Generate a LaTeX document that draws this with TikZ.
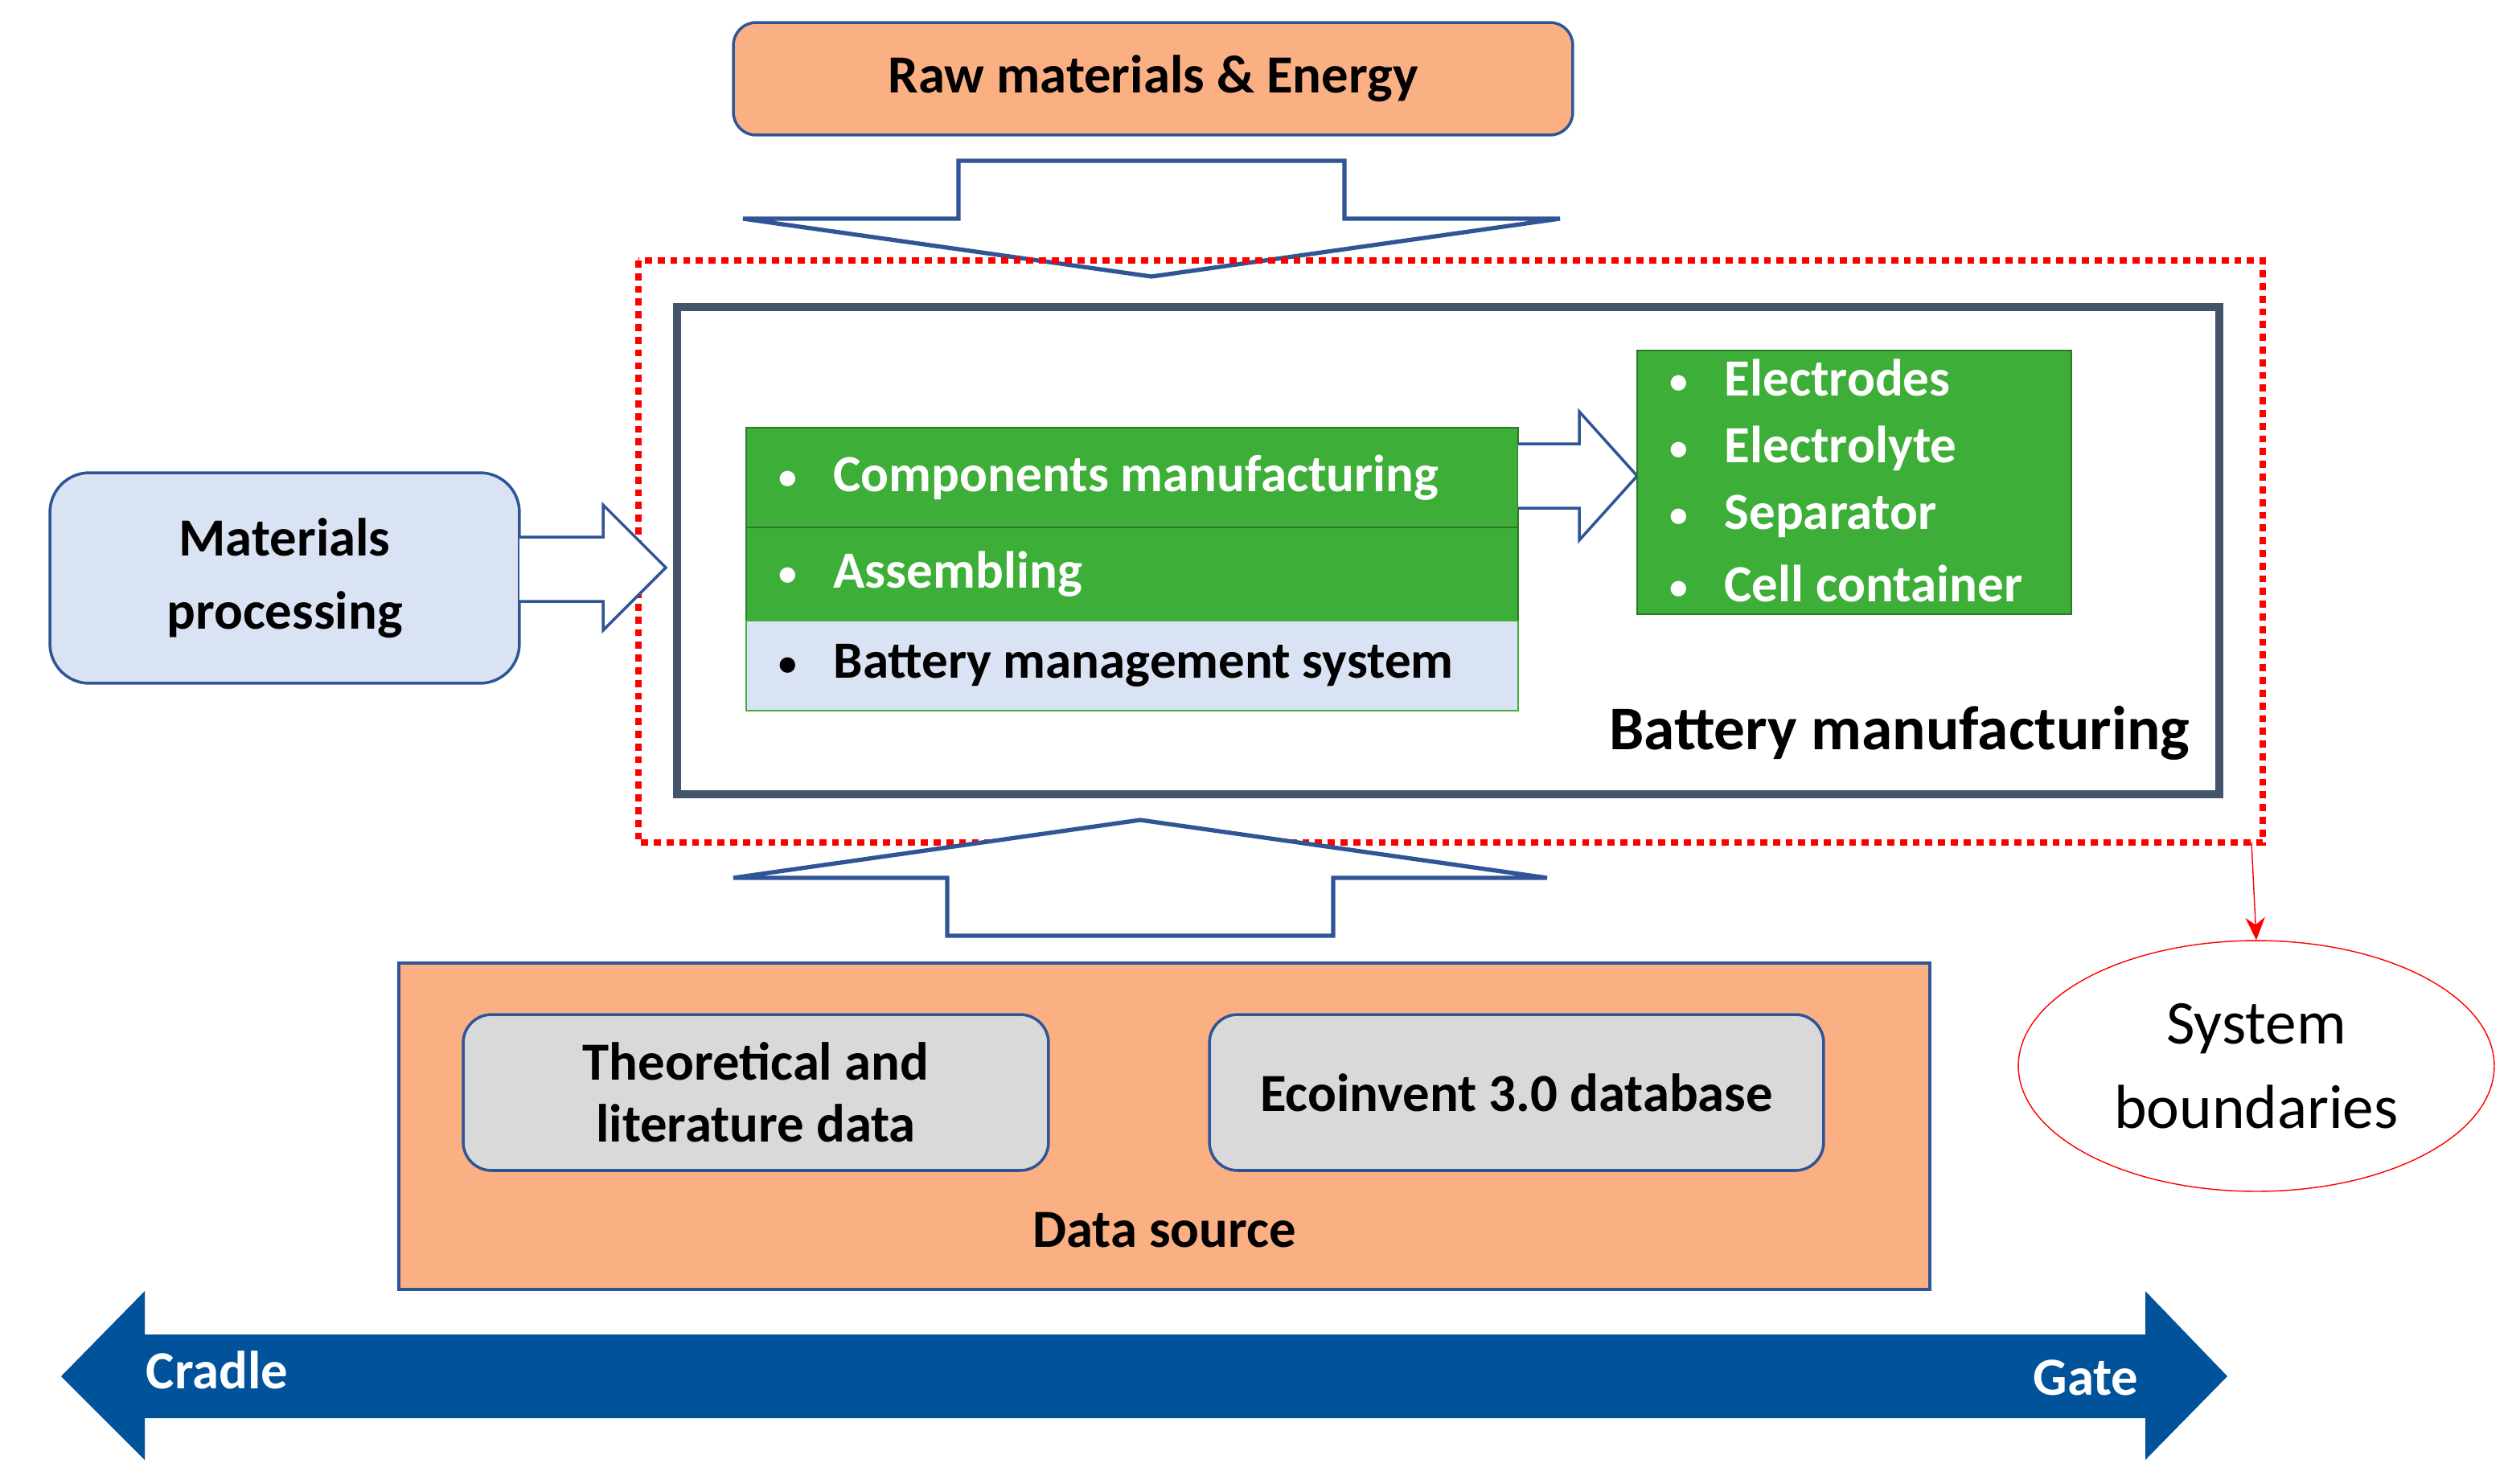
\documentclass[tikz,border=0pt]{standalone}
\usepackage{fontspec}
\setmainfont{Carlito}
\usetikzlibrary{shapes.geometric,arrows.meta}
\definecolor{org}{HTML}{FBB084}
\definecolor{bord}{HTML}{2F5597}
\definecolor{lblue}{HTML}{DAE3F3}
\definecolor{grn}{HTML}{3DAE37}
\definecolor{gry}{HTML}{D9D9D9}
\definecolor{dk}{HTML}{44546A}
\definecolor{bigb}{HTML}{00539B}
\newcommand{\bul}{\raisebox{0.1ex}{\scalebox{0.7}{•}}\hspace{0.7em}}
\tikzset{
 box/.style={draw=bord,line width=1pt,inner sep=0pt,align=center},
 hollow/.style={draw=bord,line width=1.5pt,fill=white},
 item/.style={anchor=west,text=white,font=\fontsize{18.5}{22}\selectfont\bfseries},
}
\begin{document}
\begin{tikzpicture}[x=0.02cm,y=-0.02cm]
\useasboundingbox (0,0) rectangle (1562,923);
% raw materials
\node[box,rounded corners=8pt,fill=org,minimum width=10.44cm,minimum height=1.4cm,font=\fontsize{19}{21}\selectfont\bfseries] (raw) at (717,49) {Raw materials \& Energy};
\draw[hollow] (596,100)--(836,100)--(836,136)--(970,136)--(716,172)--(462,136)--(596,136)--cycle;
% boundary
\draw[red,line width=2.5pt,dotted] (397,162) rectangle (1407,524);
\node[draw=dk,line width=3pt,minimum width=19.18cm,minimum height=6.06cm] (bm) at (900.5,342.5) {};
\node[anchor=south east,font=\fontsize{22}{25}\selectfont\bfseries,inner sep=0pt] (bmt) at (1362,473) {Battery manufacturing};
% green blocks
\node[draw=grn!70!black,fill=grn,minimum width=9.6cm,minimum height=1.24cm] (c1) at (704,297) {};
\node[draw=grn!70!black,fill=grn,minimum width=9.6cm,minimum height=1.16cm] (c2) at (704,357) {};
\node[draw=grn,fill=lblue,minimum width=9.6cm,minimum height=1.12cm] (c3) at (704,414) {};
\node[item] (t1) at (478,297) {\bul Components manufacturing};
\node[item] (t2) at (478,357) {\bul Assembling};
\node[item,text=black] (t3) at (478,414) {\bul Battery management system};
\draw[hollow,line width=1pt] (944,276)--(982,276)--(982,256)--(1018,296)--(982,336)--(982,316)--(944,316);
\node[draw=grn!70!black,fill=grn,minimum width=5.4cm,minimum height=3.28cm] (lst) at (1153,300) {};
\node[item] (l1) at (1032,235) {\bul Electrodes};
\node[item] (l2) at (1032,279) {\bul Electrolyte};
\node[item] (l3) at (1032,321) {\bul Separator};
\node[item] (l4) at (1032,363) {\bul Cell container};
% materials processing
\node[box,rounded corners=14pt,fill=lblue,minimum width=5.84cm,minimum height=2.62cm,font=\fontsize{19}{26}\selectfont\bfseries] (mp) at (177,359.5) {Materials\\processing};
\draw[hollow,line width=1pt] (323,334)--(375,334)--(375,314)--(414,353)--(375,392)--(375,374)--(323,374);
% up arrow
\draw[hollow] (589,582)--(829,582)--(829,546)--(962,546)--(709,510)--(456,546)--(589,546)--cycle;
% data source
\node[box,fill=org,minimum width=19.04cm,minimum height=4.06cm] (ds) at (724,700.5) {};
\node[box,rounded corners=10pt,fill=gry,minimum width=7.28cm,minimum height=1.94cm,font=\fontsize{19}{22}\selectfont\bfseries] (th) at (470,679.5) {Theoretical and\\literature data};
\node[box,rounded corners=10pt,fill=gry,minimum width=7.64cm,minimum height=1.94cm,font=\fontsize{19}{22}\selectfont\bfseries] (ec) at (943,679.5) {Ecoinvent 3.0 database};
\node[font=\fontsize{19}{22}\selectfont\bfseries] (dst) at (724,765) {Data source};
% system boundaries
\node[ellipse,draw=red,minimum width=5.92cm,minimum height=3.12cm,font=\fontsize{22}{30}\selectfont,align=center] (sb) at (1403,663) {System\\boundaries};
\coordinate (rs) at (1400,524);
\draw[red,-{Stealth[length=8pt,width=7pt]}] (rs) -- (sb.north);
% cradle gate
\fill[bigb] (38,856)--(90,803)--(90,830)--(1334,830)--(1334,803)--(1385,856)--(1334,908)--(1334,882)--(90,882)--(90,908)--cycle;
\node[text=white,font=\fontsize{19}{22}\selectfont\bfseries] (cr) at (135,852) {Cradle};
\node[text=white,font=\fontsize{19}{22}\selectfont\bfseries] (gt) at (1297,857) {Gate};
\end{tikzpicture}
\end{document}
